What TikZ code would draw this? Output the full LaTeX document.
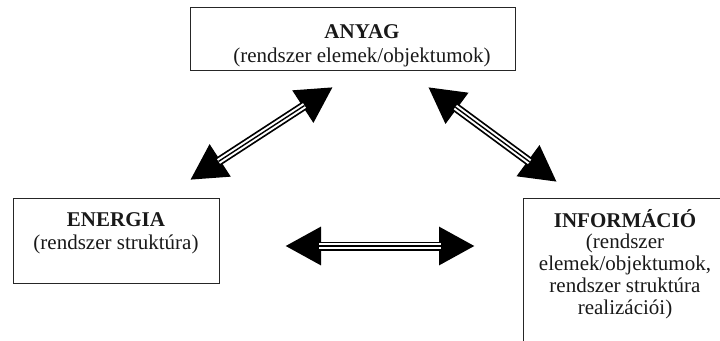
\documentclass[tikz,border=0pt]{standalone}
\usepackage{fontspec}
\setmainfont{Liberation Serif}
\usetikzlibrary{arrows.meta}
\tikzset{
  box/.style={draw=black!85, line width=1.3pt, rectangle, inner sep=0pt, anchor=north west},
  lbl/.style={align=center, inner sep=0pt, anchor=north, text=black!90},
  tri/.style={draw=black, line width=9pt,
    {Triangle[length=36pt,width=36pt]}-{Triangle[length=36pt,width=36pt]},
    postaction={draw=white, line width=5.5pt, -, shorten <=34pt, shorten >=34pt},
    postaction={draw=black, line width=1.4pt, -, shorten <=34pt, shorten >=34pt}}
}
\begin{document}
\begin{tikzpicture}[x=1pt,y=-1pt]
\useasboundingbox (0,0) rectangle (720,340);
\clip (0,0) rectangle (720,340);
% boxes
\node[box, minimum width=325pt, minimum height=63pt] (anyag) at (190,7) {};
\node[box, minimum width=206pt, minimum height=85pt] (energia) at (13,198) {};
\node[box, minimum width=220pt, minimum height=160pt] (info) at (523,198) {};
% texts
\node[lbl, font=\fontsize{21}{24}\selectfont] (anyagT) at (362,24)
  {\textbf{ANYAG}\\(rendszer elemek/objektumok)};
\node[lbl, font=\fontsize{21}{23}\selectfont] (energiaT) at (116,212)
  {\textbf{ENERGIA}\\(rendszer struktúra)};
\node[lbl, font=\fontsize{21}{21.7}\selectfont] (infoT) at (625,209)
  {\textbf{INFORMÁCIÓ}\\(rendszer\\elemek/objektumok,\\rendszer struktúra\\realizációi)};
% arrow ends
\coordinate (aL1) at (190,180);
\coordinate (aL2) at (333,87);
\coordinate (aR1) at (428,87);
\coordinate (aR2) at (557,182);
\coordinate (aH1) at (285,246);
\coordinate (aH2) at (475,246);
\draw[tri] (aL1) -- (aL2);
\draw[tri] (aR1) -- (aR2);
\draw[tri] (aH1) -- (aH2);
\end{tikzpicture}
\end{document}
